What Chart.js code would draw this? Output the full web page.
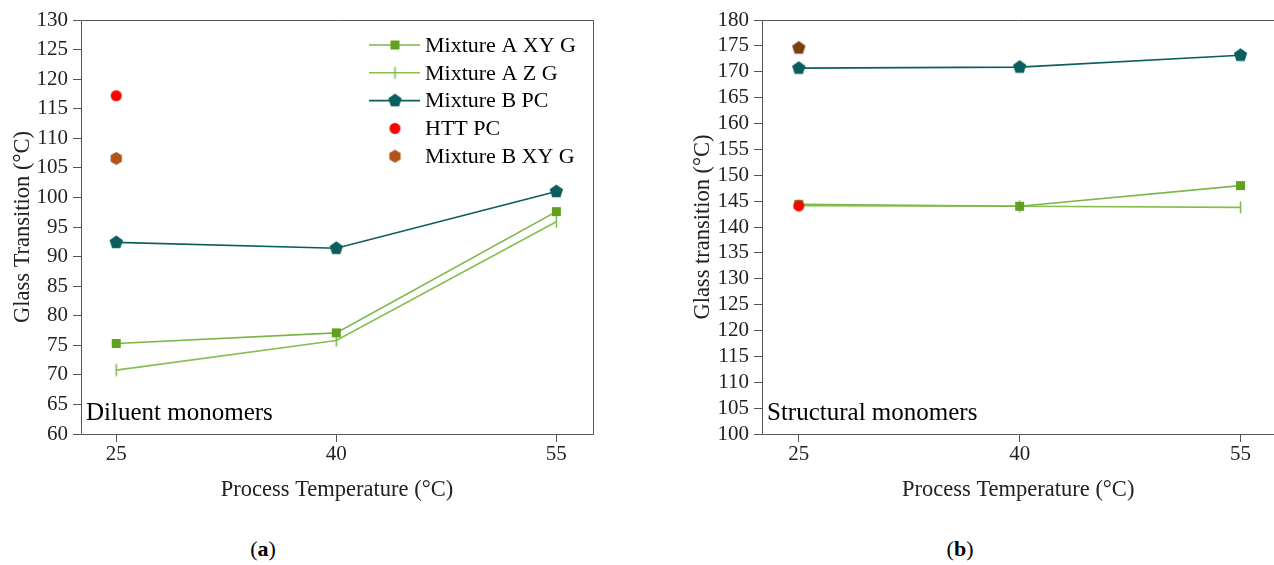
<!DOCTYPE html>
<html>
<head>
<meta charset="utf-8">
<script src="https://cdn.jsdelivr.net/npm/chart.js@4.4.1/dist/chart.umd.min.js"></script>
<style>
body{margin:0;background:#fff;width:1274px;height:565px;position:relative;overflow:hidden;font-family:"Liberation Serif",serif}
#cA{position:absolute;left:0;top:0}
#cB{position:absolute;left:680px;top:0}
.cap{position:absolute;top:536px;font-size:22px;width:60px;text-align:center;color:#000}
</style>
</head>
<body>
<canvas id="cA" width="640" height="505"></canvas>
<canvas id="cB" width="600" height="505"></canvas>
<div class="cap" style="left:233px">(<b>a</b>)</div>
<div class="cap" style="left:930px">(<b>b</b>)</div>
<script>
// process temperatures (x)
var temps = [25, 40, 55];

// (a) diluent monomers
var aMixAXYG = [75.3, 77.1, 97.6];
var aMixAZG  = [70.8, 75.8, 95.9];
var aMixBPC  = [92.4, 91.4, 101.0];
var aHTTPC   = [117.2, null, null];
var aMixBXYG = [106.6, null, null];

// (b) structural monomers
var bMixAXYG = [144.4, 144.0, 148.0];
var bMixAZG  = [144.1, 144.0, 143.8];
var bMixBPC  = [170.7, 170.9, 173.2];
var bHTTPC   = [144.1, null, null];
var bMixBXYG = [174.6, null, null];

var labels = ['Mixture A XY G', 'Mixture A Z G', 'Mixture B PC', 'HTT PC', 'Mixture B XY G'];

var FONT = '"Liberation Serif", "Times New Roman", serif';

function pts(vals){
  return temps.map(function(t,i){ return {x:t, y:vals[i]}; }).filter(function(p){ return p.y != null; });
}

// little marker images
function marker(kind, color){
  var c = document.createElement('canvas');
  c.width = 17; c.height = 17;
  var g = c.getContext('2d');
  g.fillStyle = color;
  var cx = 8.5, cy = 8.5;
  if (kind == 'square') {
    g.fillRect(4, 4, 9, 9);
  } else if (kind == 'tick') {
    g.fillRect(7.75, 2.5, 1.5, 12);
  } else if (kind == 'circle') {
    g.beginPath(); g.arc(cx, cy, 5.5, 0, Math.PI*2); g.fill();
  } else {
    var n = kind == 'pentagon' ? 5 : 6;
    var r = kind == 'pentagon' ? 7 : 6.5;
    g.beginPath();
    for (var i = 0; i < n; i++) {
      var a = -Math.PI/2 + i*2*Math.PI/n;
      g.lineTo(cx + r*Math.cos(a), cy + r*Math.sin(a));
    }
    g.closePath(); g.fill();
  }
  return c;
}

var green = '#62a01f', greenLine = '#7ab648', greenLine2 = '#86bf4f', teal = '#0b5e5e';

function makeSets(xyg, zg, bpc, htt, bxyg, bxygStyle){
  return [
    {label: labels[0], data: pts(xyg), borderColor: greenLine, borderWidth: 1.6, pointStyle: marker('square', green), order: 2},
    {label: labels[1], data: pts(zg), borderColor: greenLine2, borderWidth: 1.6, pointStyle: marker('tick', greenLine), order: 3},
    {label: labels[2], data: pts(bpc), borderColor: teal, borderWidth: 1.6, pointStyle: marker('pentagon', teal), order: 1},
    {label: labels[3], data: pts(htt), showLine: false, pointStyle: marker('circle', '#ff0000'), order: 0},
    {label: labels[4], data: pts(bxyg), showLine: false, pointStyle: bxygStyle, order: 0}
  ];
}

var framePlugin = {
  id: 'frame',
  afterDatasetsDraw: function(chart){
    var ctx = chart.ctx, a = chart.chartArea;
    var o = chart.options.plugins.frame;
    var l = Math.round(a.left)+0.5, t = Math.round(a.top)+0.5, r = Math.round(a.right)+0.5, b = Math.round(a.bottom)+0.5;
    ctx.save();
    ctx.strokeStyle = '#555';
    ctx.lineWidth = 1;
    ctx.beginPath();
    ctx.moveTo(l, t); ctx.lineTo(l, b); ctx.lineTo(r, b);
    if (o.rightSide) { ctx.lineTo(r, t); } else { ctx.moveTo(r, t); }
    ctx.lineTo(l, t);
    ctx.stroke();
    ctx.fillStyle = '#000';
    ctx.font = '25px ' + FONT;
    ctx.textBaseline = 'middle';
    ctx.fillText(o.note, a.left + 5, a.bottom - 21);
    if (o.legend) {
      var x0 = a.right - 224;
      ctx.font = '22px ' + FONT;
      chart.data.datasets.forEach(function(ds, i){
        var y = a.top + 25 + i*27.8;
        if (ds.showLine !== false) {
          ctx.strokeStyle = ds.borderColor;
          ctx.lineWidth = ds.borderWidth;
          ctx.beginPath(); ctx.moveTo(x0, y); ctx.lineTo(x0 + 51, y); ctx.stroke();
        }
        ctx.drawImage(ds.pointStyle, x0 + 26 - 8.5, y - 8.5);
        ctx.fillText(ds.label, x0 + 56, y + 1);
      });
    }
    ctx.restore();
  }
};

function makeChart(id, sets, xMin, xMax, yMin, yMax, yTitle, yWidth, rightPad, note, legend){
  return new Chart(document.getElementById(id), {
    type: 'line',
    data: {datasets: sets},
    plugins: [framePlugin],
    options: {
      responsive: false,
      animation: false,
      devicePixelRatio: 1,
      layout: {padding: {top: 20, right: rightPad, left: 0, bottom: 0}},
      plugins: {
        legend: {display: false},
        tooltip: {enabled: false},
        frame: {note: note, legend: legend, rightSide: legend}
      },
      scales: {
        x: {
          type: 'linear', min: xMin, max: xMax,
          afterBuildTicks: function(s){ s.ticks = temps.map(function(t){ return {value: t}; }); },
          afterFit: function(s){ s.height = 505 - 434; },
          border: {display: false},
          grid: {drawOnChartArea: false, drawTicks: true, tickLength: 8, color: '#555'},
          ticks: {color: '#222', padding: 0, font: {family: FONT, size: 21}, maxRotation: 0},
          title: {display: true, text: 'Process Temperature (°C)', color: '#222', font: {family: FONT, size: 22.5}, padding: {top: 0, bottom: 1}}
        },
        y: {
          min: yMin, max: yMax,
          afterFit: function(s){ s.width = yWidth; },
          border: {display: false},
          grid: {drawOnChartArea: false, drawTicks: true, tickLength: 8, color: '#555'},
          ticks: {stepSize: 5, autoSkip: false, color: '#222', padding: 5, font: {family: FONT, size: 21}},
          title: {display: true, text: yTitle, color: '#222', font: {family: FONT, size: 22.5}, padding: {top: 9.5, bottom: 0}}
        }
      }
    }
  });
}

makeChart('cA', makeSets(aMixAXYG, aMixAZG, aMixBPC, aHTTPC, aMixBXYG, marker('hexagon', '#b0561a')),
  22.6, 57.5, 60, 130, 'Glass Transition (°C)', 81, 47, 'Diluent monomers', true);
makeChart('cB', makeSets(bMixAXYG, bMixAZG, bMixBPC, bHTTPC, bMixBXYG, marker('pentagon', '#7a3e12')),
  22.5, 57.3, 100, 180, 'Glass transition (°C)', 82, 0, 'Structural monomers', false);
</script>
</body>
</html>
